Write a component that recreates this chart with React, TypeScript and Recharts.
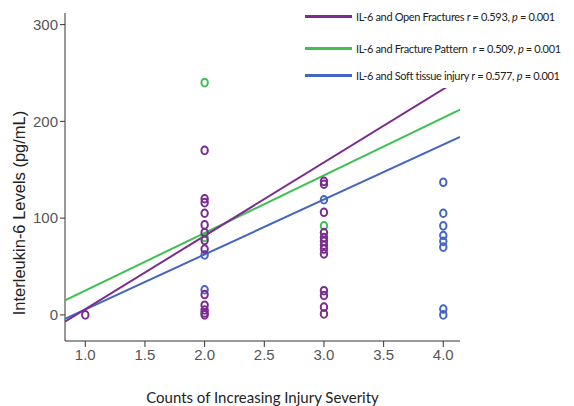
import React from "react";
import {
  ScatterChart,
  Scatter,
  XAxis,
  YAxis,
  ZAxis,
} from "recharts";

// observed IL-6 values (pg/mL) per injury severity count
const openX = [1, 2, 2, 2, 2, 2, 2, 2, 2, 2, 2, 2, 2, 2, 3, 3, 3, 3, 3, 3, 3, 3, 3, 3, 3, 3, 3];
const openY = [0, 170, 120, 116, 105, 93, 85, 77, 68, 21, 10, 5, 0, 2, 138, 135, 106, 85, 80, 76, 72, 68, 63, 25, 20, 8, 1];
const patternX = [2, 2, 3];
const patternY = [240, 80, 92];
const softX = [2, 2, 3, 4, 4, 4, 4, 4, 4, 4, 4];
const softY = [26, 62, 119, 137, 105, 92, 82, 76, 70, 6, 0];

// fitted regression lines, endpoints read at the plot edges
const fitX = [0.83, 4.14];
const openFitY = [-7, 244];
const patternFitY = [15, 212];
const softFitY = [-4, 184];

const xTicks = [1, 1.5, 2, 2.5, 3, 3.5, 4];
const yTicks = [0, 100, 200, 300];

const PURPLE = "#7b2d8e";
const GREEN = "#3fc052";
const BLUE = "#4565c2";

const legendItems = [
  { name: "IL-6 and Open Fractures", r: "0.593", color: PURPLE },
  { name: "IL-6 and Fracture Pattern ", r: "0.509", color: GREEN },
  { name: "IL-6 and Soft tissue injury", r: "0.577", color: BLUE },
];

const zip = (xs: number[], ys: number[]) => xs.map((x, i) => ({ x, y: ys[i] }));

const ring = (color: string) => (props: any) => (
  <ellipse
    cx={props.cx}
    cy={props.cy}
    rx={3.2}
    ry={3.8}
    fill="none"
    stroke={color}
    strokeWidth={2}
  />
);

const noDot = () => <g />;

const tickFont = "'Liberation Sans Narrow', 'Arial Narrow', 'Liberation Sans', sans-serif";

const YTitle = () => (
  <text
    x={19}
    y={213}
    transform="rotate(-90 19 213)"
    textAnchor="middle"
    dominantBaseline="central"
    fill="#222"
    fontSize={16.5}
    fontFamily="'Liberation Sans', Arial, sans-serif"
  >
    Interleukin-6 Levels (pg/mL)
  </text>
);

export default function App() {
  return (
    <div style={{ position: "absolute", left: 0, top: 0, width: 574, height: 406, background: "#fff" }}>
      <ScatterChart width={574} height={406} margin={{ top: 13, right: 114, left: 0, bottom: 0 }}>
        <XAxis
          type="number"
          dataKey="x"
          domain={[0.83, 4.14]}
          ticks={xTicks}
          allowDataOverflow
          tickFormatter={(v: number) => v.toFixed(1)}
          height={65}
          stroke="#333"
          tickSize={6}
          tick={{ fill: "#555", fontSize: 15, fontFamily: tickFont }}
          label={{
            value: "Counts of Increasing Injury Severity",
            position: "insideBottom",
            offset: 3,
            fill: "#222",
            fontSize: 15,
            fontFamily: "Lato, sans-serif",
          }}
        />
        <YAxis
          type="number"
          dataKey="y"
          domain={[-27, 312]}
          ticks={yTicks}
          allowDataOverflow
          width={65}
          stroke="#333"
          tickSize={5}
          tick={{ fill: "#555", fontSize: 15, fontFamily: tickFont }}
          label={{ content: YTitle }}
        />
        <ZAxis range={[40, 40]} />
        <Scatter data={zip(fitX, patternFitY)} line={{ stroke: GREEN, strokeWidth: 2 }} shape={noDot} isAnimationActive={false} />
        <Scatter data={zip(fitX, softFitY)} line={{ stroke: BLUE, strokeWidth: 2 }} shape={noDot} isAnimationActive={false} />
        <Scatter data={zip(fitX, openFitY)} line={{ stroke: PURPLE, strokeWidth: 2 }} shape={noDot} isAnimationActive={false} />
        <Scatter data={zip(patternX, patternY)} shape={ring(GREEN)} isAnimationActive={false} />
        <Scatter data={zip(softX, softY)} shape={ring(BLUE)} isAnimationActive={false} />
        <Scatter data={zip(openX, openY)} shape={ring(PURPLE)} isAnimationActive={false} />
      </ScatterChart>
      <div
        style={{
          position: "absolute",
          left: 296,
          top: 0,
          width: 278,
          height: 88,
          background: "#fff",
          fontFamily: "Lato, sans-serif",
          fontSize: 11,
          letterSpacing: -0.35,
          color: "#222",
        }}
      >
        {legendItems.map((item, i) => (
          <div
            key={item.name}
            style={{
              position: "absolute",
              left: 9,
              top: [10, 42, 69][i],
              display: "flex",
              alignItems: "center",
              whiteSpace: "pre",
            }}
          >
            <span style={{ display: "inline-block", width: 47, height: 3, background: item.color, marginRight: 4 }} />
            <span>
              {item.name} r = {item.r}, <i>p</i> = 0.001
            </span>
          </div>
        ))}
      </div>
    </div>
  );
}
